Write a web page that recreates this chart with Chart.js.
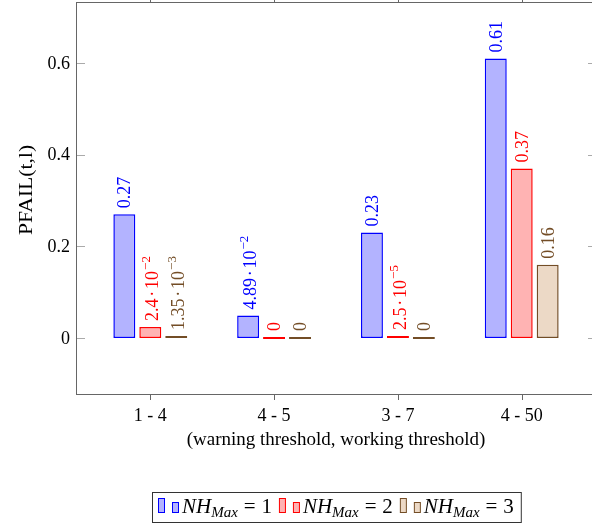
<!DOCTYPE html>
<html>
<head>
<meta charset="utf-8">
<script src="https://cdn.jsdelivr.net/npm/chart.js@4.4.1/dist/chart.umd.min.js"></script>
<style>
  html, body { margin: 0; padding: 0; background: #fff; overflow: hidden; }
  #wrap { width: 600px; height: 527px; }
</style>
</head>
<body>
<div id="wrap"><canvas id="balken"></canvas></div>
<script>
// Werte
const categories = ['1 - 4', '4 - 5', '3 - 7', '4 - 50'];
const seriesNames = ['NH_{Max} = 1', 'NH_{Max} = 2', 'NH_{Max} = 3'];
const nh1 = [0.27, 0.0489, 0.23, 0.61];
const nh2 = [0.024, 0, 0.000025, 0.37];
const nh3 = [0.00135, 0, 0, 0.16];
const nh1Labels = ['0.27', '4.89·10^{−2}', '0.23', '0.61'];
const nh2Labels = ['2.4·10^{−2}', '0', '2.5·10^{−5}', '0.37'];
const nh3Labels = ['1.35·10^{−3}', '0', '0', '0.16'];
const yTicks = [0, 0.2, 0.4, 0.6];
const yTickLabels = ['0', '0.2', '0.4', '0.6'];
const yTitle = 'PFAIL(t,l)';
const xTitle = '(warning threshold, working threshold)';

const serif = '"Liberation Serif", "DejaVu Serif", serif';
const farben = [
  { rand: '#0000ff', fuell: '#b3b3ff', text: '#0000ff' },
  { rand: '#ff0000', fuell: '#ffb3b3', text: '#ff0000' },
  { rand: '#734d26', fuell: '#ecd9c6', text: '#734d26' }
];
const reihen = [nh1, nh2, nh3];
const reihenLabels = [nh1Labels, nh2Labels, nh3Labels];

// Text mit Exponent zeichnen (gedreht, von unten nach oben)
function zeichneExpText(ctx, text, groesse) {
  const m = text.match(/^(.*)\^\{(.*)\}$/);
  const basis = m ? m[1] : text;
  const exp = m ? m[2] : null;
  const boxHoehe = exp ? groesse * 0.86 : groesse * 0.66;
  const baseline = boxHoehe / 2;
  ctx.font = groesse + 'px ' + serif;
  ctx.textAlign = 'left';
  ctx.textBaseline = 'alphabetic';
  // Malpunkt mit kleinem Abstand wie im Mathesatz
  let x = 0;
  basis.split('·').forEach((teil, k) => {
    if (k > 0) {
      x += groesse * 0.1;
      ctx.fillText('·', x, baseline);
      x += ctx.measureText('·').width + groesse * 0.1;
    }
    ctx.fillText(teil, x, baseline);
    x += ctx.measureText(teil).width;
  });
  if (exp) {
    ctx.font = Math.round(groesse * 0.7) + 'px ' + serif;
    ctx.fillText(exp, x + 1, baseline - groesse * 0.42);
  }
}

// Legendeneintrag "NH_{Max} = 1" zeichnen, gibt Endposition zurück
function zeichneMathText(ctx, text, x, y, groesse) {
  const m = text.match(/^(.*)_\{(.*)\}(.*)$/);
  ctx.textAlign = 'left';
  ctx.textBaseline = 'alphabetic';
  ctx.font = 'italic ' + groesse + 'px ' + serif;
  ctx.fillText(m[1], x, y);
  x += ctx.measureText(m[1]).width;
  const sub = Math.round(groesse * 0.7);
  ctx.font = 'italic ' + sub + 'px ' + serif;
  ctx.fillText(m[2], x, y + groesse * 0.2);
  x += ctx.measureText(m[2]).width;
  ctx.font = groesse + 'px ' + serif;
  const teile = m[3].trim().split(' ');
  // "= 1" mit etwas Abstand wie im Mathesatz
  x += groesse * 0.28;
  ctx.fillText(teile[0], x, y);
  x += ctx.measureText(teile[0]).width + groesse * 0.28;
  ctx.fillText(teile[1], x, y);
  x += ctx.measureText(teile[1]).width;
  return x;
}

const achsenPlugin = {
  id: 'achsen',
  afterDraw(chart) {
    const ctx = chart.ctx;
    const a = chart.chartArea;
    const xs = chart.scales.x;
    const ys = chart.scales.y;
    ctx.save();

    // Balkenbeschriftungen
    chart.data.datasets.forEach((ds, di) => {
      const meta = chart.getDatasetMeta(di);
      meta.data.forEach((el, i) => {
        ctx.save();
        ctx.fillStyle = farben[di].text;
        ctx.translate(el.x, Math.min(el.y, el.base) - 6);
        ctx.rotate(-Math.PI / 2);
        zeichneExpText(ctx, reihenLabels[di][i], 18);
        ctx.restore();
      });
    });

    // Rahmen
    ctx.strokeStyle = '#666';
    ctx.lineWidth = 1;
    ctx.strokeRect(a.left + 0.5, a.top + 0.5, a.right - a.left, a.bottom - a.top);

    // y-Ticks (innen, grau)
    ctx.strokeStyle = '#aaa';
    yTicks.forEach(v => {
      const py = Math.round(ys.getPixelForValue(v)) + 0.5;
      ctx.beginPath();
      ctx.moveTo(a.left + 1, py); ctx.lineTo(a.left + 9, py);
      ctx.moveTo(a.right, py); ctx.lineTo(a.right - 8, py);
      ctx.stroke();
    });
    // x-Ticks (aussen)
    ctx.strokeStyle = '#666';
    categories.forEach((c, i) => {
      const px = Math.round(xs.getPixelForValue(i)) + 0.5;
      ctx.beginPath();
      ctx.moveTo(px, a.bottom); ctx.lineTo(px, a.bottom + 6);
      ctx.moveTo(px, a.top); ctx.lineTo(px, a.top - 6);
      ctx.stroke();
    });

    // Tick-Beschriftungen
    ctx.fillStyle = '#000';
    ctx.font = '18px ' + serif;
    ctx.textAlign = 'right';
    ctx.textBaseline = 'middle';
    yTicks.forEach((v, i) => {
      ctx.fillText(yTickLabels[i], a.left - 6, ys.getPixelForValue(v) + 1);
    });
    ctx.textAlign = 'center';
    ctx.textBaseline = 'alphabetic';
    categories.forEach((c, i) => {
      ctx.fillText(c, xs.getPixelForValue(i), a.bottom + 27);
    });

    // Achsentitel
    ctx.font = '19px ' + serif;
    ctx.fillText(xTitle, 336, a.bottom + 51);
    ctx.save();
    ctx.font = '18px ' + serif;
    ctx.translate(32, 190);
    ctx.rotate(-Math.PI / 2);
    ctx.scale(1.2, 1);
    ctx.fillText(yTitle, 0, 0);
    ctx.restore();

    // Legende
    let lx = 158;
    const top = 492.5, unten = 522.5, base = 513;
    chart.data.datasets.forEach((ds, di) => {
      ctx.fillStyle = farben[di].fuell;
      ctx.strokeStyle = farben[di].rand;
      ctx.fillRect(lx + 0.5, 498.5, 6, 14);
      ctx.strokeRect(lx + 0.5, 498.5, 6, 14);
      ctx.fillRect(lx + 14.5, 502.5, 6, 10);
      ctx.strokeRect(lx + 14.5, 502.5, 6, 10);
      ctx.fillStyle = '#000';
      lx = zeichneMathText(ctx, seriesNames[di], lx + 24, base, 21) + 7;
    });
    ctx.strokeStyle = '#333';
    ctx.strokeRect(152.5, top, lx - 152, unten - top);

    ctx.restore();
  }
};

const daten = {
  datasets: reihen.map((werte, di) => ({
    label: seriesNames[di],
    data: werte.map((v, i) => ({ x: i, y: v })),
    backgroundColor: farben[di].fuell,
    borderColor: farben[di].rand,
    borderWidth: 1.5,
    borderSkipped: false,
    minBarLength: 2,
    categoryPercentage: 0.629,
    barPercentage: 0.846
  }))
};

new Chart(document.querySelector('#balken'), {
  type: 'bar',
  data: daten,
  options: {
    responsive: true,
    maintainAspectRatio: false,
    animation: false,
    layout: { padding: { left: 76, top: 2, right: 4, bottom: 133 } },
    scales: {
      x: {
        type: 'linear', min: -0.6, max: 3.6, offset: false, display: false,
        afterBuildTicks: s => { s.ticks = categories.map((c, i) => ({ value: i })); }
      },
      y: { type: 'linear', min: -0.1222, max: 0.7331, display: false }
    },
    plugins: {
      legend: { display: false },
      tooltip: { enabled: false }
    }
  },
  plugins: [achsenPlugin]
});
</script>
</body>
</html>
